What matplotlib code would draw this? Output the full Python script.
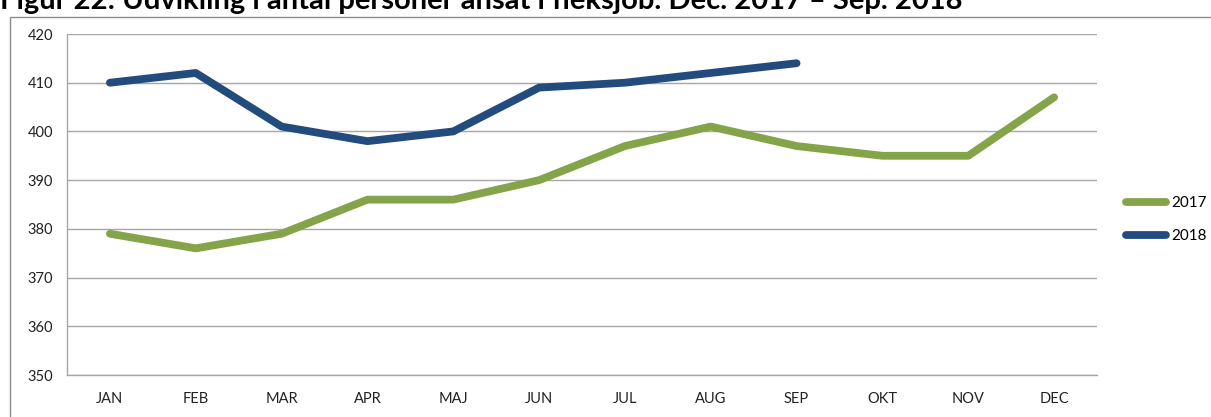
import matplotlib.pyplot as plt
from matplotlib.patches import Rectangle

months = ["JAN", "FEB", "MAR", "APR", "MAJ", "JUN", "JUL", "AUG", "SEP", "OKT", "NOV", "DEC"]
v2017 = [379, 376, 379, 386, 386, 390, 397, 401, 397, 395, 395, 407]
v2018 = [410, 412, 401, 398, 400, 409, 410, 412, 414]
yticks = [350, 360, 370, 380, 390, 400, 410, 420]

green = "#84A449"
blue = "#234C7E"

plt.rcParams['font.family'] = ['Lato', 'DejaVu Sans']

fig = plt.figure(figsize=(12.11, 4.17), dpi=100)
fig.patches.append(Rectangle((10 / 1211, -0.05), 1.2, 1 - 17 / 417 + 0.05, transform=fig.transFigure,
                             fill=False, edgecolor="#8c8c8c", linewidth=1.0))
# title is cropped at the top in the source image
fig.text(0.0, 1 - 9 / 417, "Figur 22: Udvikling i antal personer ansat i fleksjob. Dec. 2017 \u2013 Sep. 2018",
         fontsize=21, fontweight="bold", va="baseline", ha="left", color="black")

ax = fig.add_axes([67 / 1211, 1 - 375 / 417, (1097 - 67) / 1211, (375 - 34) / 417])
x17 = list(range(len(v2017)))
x18 = list(range(len(v2018)))
ax.plot(x17, v2017, color=green, linewidth=5.6, solid_capstyle="round", solid_joinstyle="round", label="2017")
ax.plot(x18, v2018, color=blue, linewidth=5.6, solid_capstyle="round", solid_joinstyle="round", label="2018")

ax.set_xlim(-0.5, len(months) - 0.5)
ax.set_ylim(350, 420)
ax.set_yticks(yticks)
ax.set_xticks(x17)
ax.set_xticklabels(months)
ax.tick_params(axis="both", length=0, labelsize=10.5, colors="#222222")
ax.tick_params(axis="x", pad=12)
ax.tick_params(axis="y", pad=10)
ax.grid(axis="y", color="#a6a6a6", linewidth=1.0)
ax.set_axisbelow(True)
for s in ["top", "right"]:
    ax.spines[s].set_visible(False)
for s in ["left", "bottom"]:
    ax.spines[s].set_color("#a6a6a6")
    ax.spines[s].set_linewidth(1.0)

leg = ax.legend(loc="center left", bbox_to_anchor=(1.015, 0.455), frameon=False, fontsize=11,
                handlelength=2.6, handletextpad=0.35, labelspacing=1.25)

fig.savefig("out.png", dpi=100)
